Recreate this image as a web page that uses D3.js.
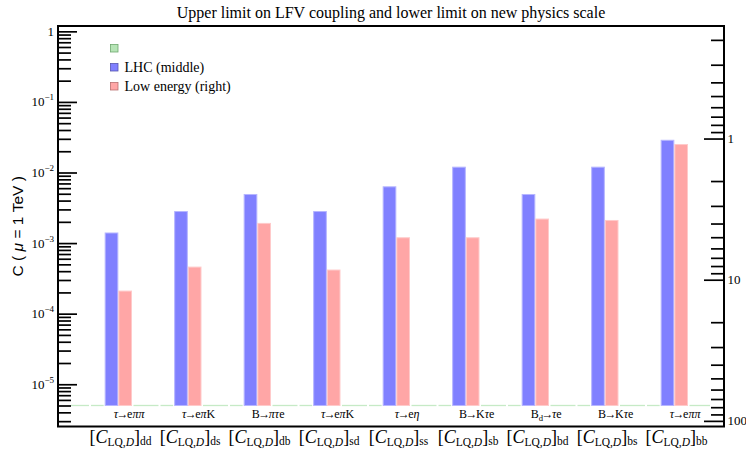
<!DOCTYPE html>
<html>
<head>
<meta charset="utf-8">
<script src="https://cdn.jsdelivr.net/npm/d3@7"></script>
<style>
  body { margin: 0; background: #fff; }
  svg { display: block; }
  text { fill: #000; }
</style>
</head>
<body>
<svg id="chart" width="746" height="449"></svg>
<script>
// ---- data -------------------------------------------------------------
const categories = ["dd", "ds", "db", "sd", "ss", "sb", "bd", "bs", "bb"];
const processLabels = ["τ→eππ", "τ→eπK", "B→πτe", "τ→eπK", "τ→eη", "B→Kτe", "B_d→τe", "B→Kτe", "τ→eππ"];
const lhcValues = [1.39e-3, 2.80e-3, 4.88e-3, 2.80e-3, 6.27e-3, 1.19e-2, 4.88e-3, 1.19e-2, 2.86e-2];
const lowEnergyValues = [2.09e-4, 4.57e-4, 1.90e-3, 4.15e-4, 1.19e-3, 1.19e-3, 2.19e-3, 2.09e-3, 2.49e-2];
const baselineValue = 5e-6;           // first (green) series: every entry sits on the bar origin
const seriesNames = ["", "LHC (middle)", "Low energy (right)"];
const seriesKeys = ["base", "lhc", "low"];
const leftMajorTicks = [1, 1e-1, 1e-2, 1e-3, 1e-4, 1e-5];
const leftExponents = [0, -1, -2, -3, -4, -5];
const rightMajorTicks = [1, 10, 100];
const cDomain = [2.52e-6, 1.19];
const lambdaFactor = 0.174;           // new-physics scale  Λ = 0.174 / sqrt(C)

// ---- styles -----------------------------------------------------------
const colors = {
  base: { fill: "#b6e4b6", stroke: "#6fa86f", line: "#c6eac6" },
  lhc:  { fill: "#8080ff", stroke: "#b6b6ff", legendStroke: "#5656b0" },
  low:  { fill: "#ffa6a6", stroke: "#ffcaca", legendStroke: "#b87070" }
};
const serif = "'Liberation Serif', 'Times New Roman', serif";
const sans = "'Liberation Sans', Arial, sans-serif";

const frame = { left: 58, right: 724, top: 26, bottom: 426.5 };

const svg = d3.select("#chart");

// ---- scales -----------------------------------------------------------
const y = d3.scaleLog().domain(cDomain).range([frame.bottom, frame.top]);
const yR = d3.scaleLog()
  .domain(cDomain.map(c => lambdaFactor / Math.sqrt(c)))
  .range([frame.bottom, frame.top]);

const x0 = d3.scaleBand().domain(categories).range([91, 688])
  .paddingInner(0.41).paddingOuter(0);
const x1 = d3.scaleBand().domain(seriesKeys).range([0, x0.bandwidth()]);

function minorTicks(lo, hi) {
  const out = [];
  for (let e = Math.floor(Math.log10(lo)); e <= Math.ceil(Math.log10(hi)); e++) {
    for (let m = 2; m <= 9; m++) {
      const v = m * Math.pow(10, e);
      if (v >= lo && v <= hi) out.push(v);
    }
  }
  return out;
}

// ---- baseline (green series) -----------------------------------------
const yBase = y(baselineValue);
const segs = [];
const overhang = 20;
categories.forEach((c, i) => {
  const s = x0(c);
  const prevEnd = i === 0 ? s - overhang : x0(categories[i - 1]) + x0.bandwidth() + 1.5;
  segs.push([prevEnd, s - 2]);
  segs.push([s, s + x1.bandwidth() - 1]);
});
{
  const last = x0(categories[categories.length - 1]) + x0.bandwidth();
  segs.push([last + 1.5, last + overhang + 2]);
}
svg.append("g").selectAll("line").data(segs).join("line")
  .attr("x1", d => d[0]).attr("x2", d => d[1])
  .attr("y1", yBase).attr("y2", yBase)
  .attr("stroke", colors.base.line).attr("stroke-width", 1.3);

// ---- bars ------------------------------------------------------------
const barData = [];
categories.forEach((c, i) => {
  barData.push({ cat: c, key: "lhc", value: lhcValues[i] });
  barData.push({ cat: c, key: "low", value: lowEnergyValues[i] });
});
svg.append("g").selectAll("rect").data(barData).join("rect")
  .attr("x", d => x0(d.cat) + x1(d.key) + 0.5)
  .attr("width", x1.bandwidth() - 1)
  .attr("y", d => y(d.value))
  .attr("height", d => yBase - y(d.value))
  .attr("fill", d => colors[d.key].fill)
  .attr("stroke", d => colors[d.key].stroke)
  .attr("stroke-width", 1);

// ---- process labels under each group -------------------------------
function addRich(textSel, str, baseSize) {
  // "_x" marks a subscript character; Greek letters are set in italic;
  // the arrow is kerned tight against its neighbours
  let i = 0;
  let pendingDy = 0;
  let pendingDx = 0;
  while (i < str.length) {
    const ch = str[i];
    if (ch === "_") {
      textSel.append("tspan").attr("font-size", baseSize * 0.72).attr("dy", 2.5).text(str[i + 1]);
      pendingDy = -2.5;
      i += 2;
      continue;
    }
    const greek = /[\u0370-\u03ff]/.test(ch);
    const ts = textSel.append("tspan").attr("font-style", greek ? "italic" : "normal").text(ch);
    if (ch === "→") { ts.attr("dx", -1.5); pendingDx = -1.5; }
    else if (pendingDx) { ts.attr("dx", pendingDx); pendingDx = 0; }
    if (pendingDy) { ts.attr("dy", pendingDy); pendingDy = 0; }
    i++;
  }
}
const procSize = 12;
const procG = svg.append("g").attr("font-family", serif).attr("font-size", procSize);
categories.forEach((c, i) => {
  const t = procG.append("text")
    .attr("x", x0(c) + x0.bandwidth() * 0.93)
    .attr("y", 418)
    .attr("text-anchor", "middle");
  addRich(t, processLabels[i], procSize);
});

// ---- category labels [C_{LQ,D}]_{ij} ------------------------------
const catG = svg.append("g").attr("font-family", serif);
categories.forEach(c => {
  const t = catG.append("text")
    .attr("x", x0(c) + x0.bandwidth() * 0.72)
    .attr("y", 443)
    .attr("text-anchor", "middle")
    .attr("font-size", 18);
  t.append("tspan").text("[");
  t.append("tspan").attr("font-style", "italic").text("C");
  t.append("tspan").attr("font-size", 11.5).attr("dy", 2.5).text("LQ,");
  t.append("tspan").attr("font-size", 11.5).attr("font-style", "italic").text("D");
  t.append("tspan").attr("dy", -2.5).text("]");
  t.append("tspan").attr("font-size", 11.5).attr("dy", 1.5).text(c);
});

// ---- left axis (C) ---------------------------------------------------
const leftAxisG = svg.append("g").attr("transform", `translate(${frame.left},0)`);
leftAxisG.append("g")
  .call(d3.axisRight(y).tickValues(minorTicks(cDomain[0], cDomain[1])).tickSize(13).tickFormat(""))
  .call(g => g.select(".domain").remove());
leftAxisG.append("g")
  .call(d3.axisRight(y).tickValues(leftMajorTicks).tickSize(19).tickFormat(""))
  .call(g => g.select(".domain").remove());
leftAxisG.selectAll(".tick line").attr("stroke", "#000").attr("stroke-width", 1.7);

const leftLab = svg.append("g").attr("font-family", serif).attr("font-size", 13).attr("text-anchor", "end");
leftMajorTicks.forEach((v, i) => {
  const t = leftLab.append("text").attr("x", 54).attr("y", y(v) + 4.5);
  if (leftExponents[i] === 0) {
    t.text("1");
  } else {
    t.append("tspan").text("10");
    t.append("tspan").attr("font-size", 9).attr("dy", -6).text("−" + Math.abs(leftExponents[i]));
  }
});

// ---- right axis (Λ) ---------------------------------------------------
const lDom = yR.domain();
const rightAxisG = svg.append("g").attr("transform", `translate(${frame.right},0)`);
rightAxisG.append("g")
  .call(d3.axisLeft(yR).tickValues(minorTicks(Math.min(...lDom), Math.max(...lDom))).tickSize(13).tickFormat(""))
  .call(g => g.select(".domain").remove());
rightAxisG.append("g")
  .call(d3.axisLeft(yR).tickValues(rightMajorTicks).tickSize(20).tickFormat(""))
  .call(g => g.select(".domain").remove());
rightAxisG.selectAll(".tick line").attr("stroke", "#000").attr("stroke-width", 1.7);

svg.append("g").attr("font-family", serif).attr("font-size", 13)
  .selectAll("text").data(rightMajorTicks).join("text")
  .attr("x", frame.right + 3.5)
  .attr("y", d => yR(d) + 4.5)
  .text(d => d);

// ---- frame -----------------------------------------------------------
svg.append("rect")
  .attr("x", frame.left).attr("y", frame.top)
  .attr("width", frame.right - frame.left).attr("height", frame.bottom - frame.top)
  .attr("fill", "none").attr("stroke", "#000").attr("stroke-width", 2);

// ---- title and axis label ------------------------------------------
svg.append("text")
  .attr("x", (frame.left + frame.right) / 2).attr("y", 18)
  .attr("text-anchor", "middle")
  .attr("font-family", serif).attr("font-size", 16)
  .text("Upper limit on LFV coupling and lower limit on new physics scale");

const yt = svg.append("text")
  .attr("transform", `translate(22.5,${(frame.top + frame.bottom) / 2}) rotate(-90)`)
  .attr("text-anchor", "middle")
  .attr("font-family", sans).attr("font-size", 15.5);
yt.append("tspan").text("C ( ");
yt.append("tspan").attr("font-style", "italic").text("μ");
yt.append("tspan").text(" = 1 TeV )");

// ---- legend ----------------------------------------------------------
const legend = svg.append("g").attr("font-family", serif).attr("font-size", 14);
seriesKeys.forEach((k, i) => {
  const ly = 44 + i * 19;
  legend.append("rect")
    .attr("x", 110.5).attr("y", ly + 0.5)
    .attr("width", 7.5).attr("height", 7.5)
    .attr("fill", colors[k].fill)
    .attr("stroke", k === "base" ? colors.base.stroke : colors[k].legendStroke)
    .attr("stroke-width", 0.8);
  legend.append("text").attr("x", 124.5).attr("y", ly + 9).text(seriesNames[i]);
});
</script>
</body>
</html>
